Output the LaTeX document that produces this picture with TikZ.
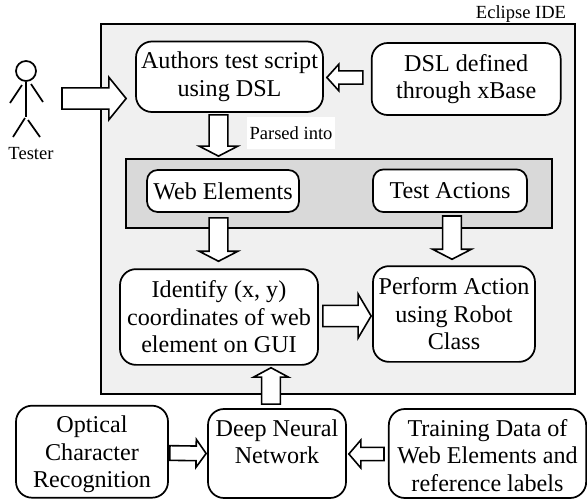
\documentclass[tikz,border=0pt]{standalone}
\usepackage{fontspec}
\setmainfont{Liberation Serif}
\usetikzlibrary{calc}
\tikzset{
    stepbox/.style={draw=black, fill=white, line width=1.3pt, rounded corners=12pt, inner sep=0pt, align=center,
        font=\fontsize{18.1}{20.6}\selectfont},
    smalltext/.style={inner sep=0pt, font=\fontsize{13.9}{16}\selectfont},
    figline/.style={black, line width=1.3pt},
    bigarrow/.style n args={3}{draw=black, fill=white, line width=1.2pt, miter limit=10, to path={
        -- ($(\tikztostart)!#1!90:(\tikztotarget)$)
        -- ($(\tikztotarget)!#3!(\tikztostart)!#1!90:(\tikztotarget)$)
        -- ($(\tikztotarget)!#3!(\tikztostart)!#2!90:(\tikztotarget)$)
        -- (\tikztotarget)
        -- ($(\tikztotarget)!#3!(\tikztostart)!#2!-90:(\tikztotarget)$)
        -- ($(\tikztotarget)!#3!(\tikztostart)!#1!-90:(\tikztotarget)$)
        -- ($(\tikztostart)!#1!-90:(\tikztotarget)$)
        -- cycle}}
}

\begin{document}
\begin{tikzpicture}[x=0.75pt, y=-0.75pt]
    \useasboundingbox (0,0) rectangle (587,500);
    % containers
    \node[draw=black, fill=black!6, line width=1.3pt, minimum width=355.5pt, minimum height=277.5pt] (eclipse) at (338,209) {};
    \node[draw=black, fill=black!15, line width=1.3pt, minimum width=319.5pt, minimum height=51.75pt] (band) at (339,193.5) {};
    \node[smalltext] (eclipselabel) at (521,14.5) {Eclipse IDE};
    \node[smalltext, fill=white, minimum width=66pt, minimum height=24pt] (parsed) at (291,133) {Parsed into};
    % boxes
    \node[stepbox, minimum width=140.25pt, minimum height=52.9pt] (author) at (229.5,76.75) {Authors test script\\using DSL};
    \node[stepbox, minimum width=141.75pt, minimum height=54pt] (dsl) at (466.2,79) {DSL defined\\through xBase};
    \node[stepbox, rounded corners=8pt, minimum width=114pt, minimum height=31.5pt] (webel) at (223,191) {Web Elements};
    \node[stepbox, rounded corners=8pt, minimum width=115.5pt, minimum height=32pt] (actions) at (450,190.75) {Test Actions};
    \node[stepbox, minimum width=148.5pt, minimum height=71.8pt] (identify) at (219,317) {Identify (x, y)\\coordinates of web\\element on GUI};
    \node[stepbox, minimum width=121.5pt, minimum height=71.8pt] (perform) at (454,314) {Perform Action\\using Robot\\Class};
    \node[stepbox, minimum width=114pt, minimum height=69pt] (ocr) at (92,451.7) {\rule{0pt}{17pt}Optical\\Character\\Recognition};
    \node[stepbox, minimum width=103.5pt, minimum height=66.75pt] (dnn) at (277,453.5) {\rule{0pt}{15.5pt}Deep Neural\\Network\\~};
    \node[stepbox, minimum width=148pt, minimum height=66.75pt] (train) at (487.5,453.5) {\rule{0pt}{15.5pt}Training Data of\\Web Elements and\\reference labels};
    % tester
    \node[draw=black, figline, circle, minimum size=15pt, inner sep=0pt] (head) at (26,71) {};
    \node[smalltext] (tester) at (31,154) {Tester};
    \coordinate (testerout) at (62,98.5);
    \draw[figline] (head.south) -- (26,117);
    \draw[figline] (22,85) -- (10,103);
    \draw[figline] (31,84) -- (43,102);
    \draw[figline] (25,118) -- (13,137);
    \draw[figline] (28,120) -- (40,137);
    % block arrows
    \draw[bigarrow={8pt}{16pt}{13pt}] (testerout) to ($(author.west)+(-9,21.75)$);
    \draw[bigarrow={5pt}{10pt}{9pt}] ($(dsl.west)+(-8,-1.5)$) to ($(author.east)+(3,0.75)$);
    \draw[bigarrow={7pt}{14.5pt}{7.5pt}] ($(author.south)+(-11,2)$) to ($(band.north)+(-120.5,-2)$);
    \draw[bigarrow={7pt}{14.5pt}{7.5pt}] ($(webel.south)+(-4.5,5)$) to ($(identify.north)+(-0.5,-7)$);
    \draw[bigarrow={7pt}{14.5pt}{7.5pt}] ($(actions.south)+(2,3)$) to ($(perform.north)+(-2,-6)$);
    \draw[bigarrow={8pt}{16.5pt}{9.75pt}] ($(identify.east)+(4,-1)$) to ($(perform.west)+(-1,2)$);
    \draw[bigarrow={7pt}{13pt}{7pt}] ($(dnn.north)+(-6,-4)$) to ($(identify.south)+(52,2)$);
    \draw[bigarrow={5.5pt}{10.5pt}{7.5pt}] ($(ocr.east)+(1,1.3)$) to ($(dnn.west)+(-1,0)$);
    \draw[bigarrow={5pt}{10.5pt}{9pt}] ($(train.west)+(-4,0.5)$) to ($(dnn.east)+(2,0.5)$);
\end{tikzpicture}
\end{document}
